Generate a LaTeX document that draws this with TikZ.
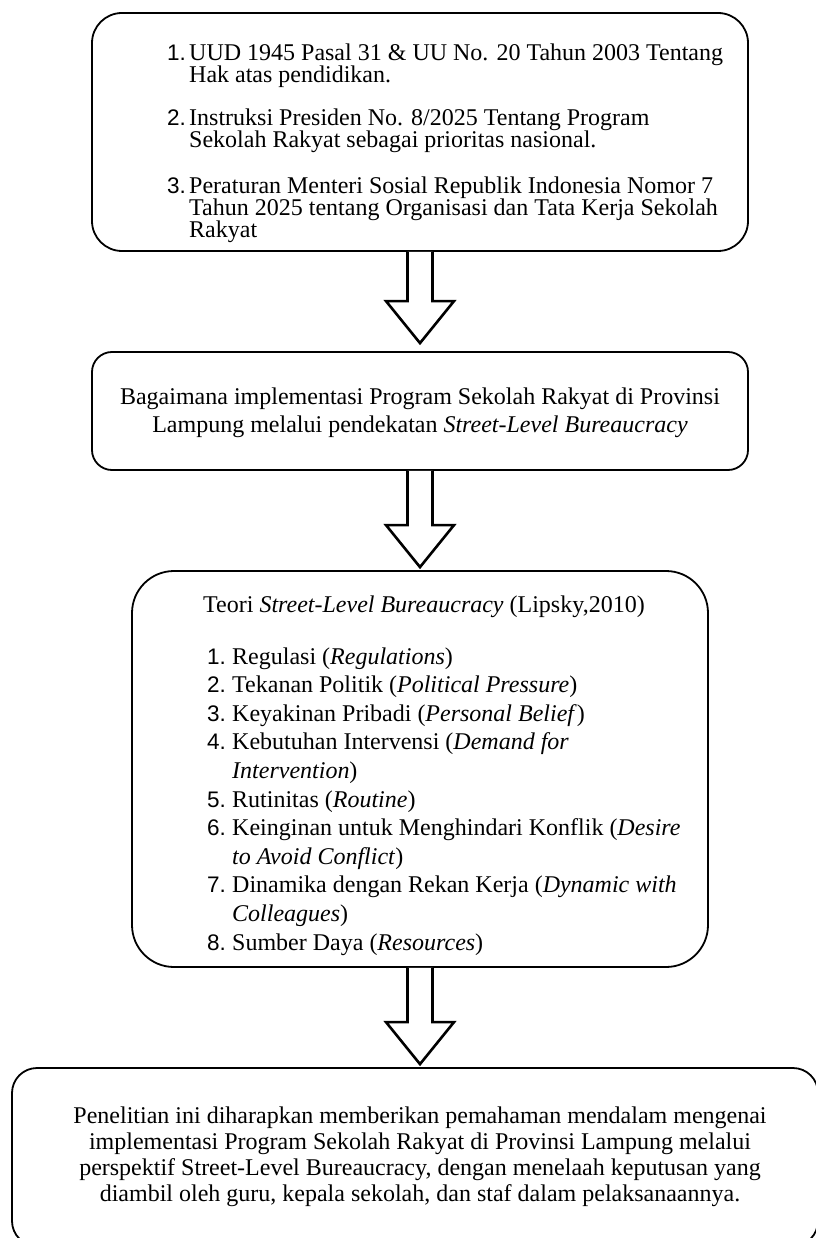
\documentclass[tikz,border=0pt]{standalone}
\usepackage{fontspec}
\setmainfont{Liberation Serif}
\newfontfamily\numfont{Liberation Sans}
\usetikzlibrary{calc}
\newcommand{\itm}[2][22pt]{\leavevmode\llap{\makebox[#1][l]{\numfont\fontsize{22.5}{22}\selectfont #2}}}
\newcommand{\blockarr}[3]{%
  \fill[gray,opacity=0.25,xshift=2.5pt,yshift=-2pt] let \p1=(#1.south), \p2=(#2.north) in
    (\x1-12.5pt,\y1) -- (\x1-12.5pt,\y2+#3+42pt) -- (\x1-34pt,\y2+#3+42pt) -- (\x1,\y2+#3)
    -- (\x1+34pt,\y2+#3+42pt) -- (\x1+12.5pt,\y2+#3+42pt) -- (\x1+12.5pt,\y1) -- cycle;
  \draw[barrow] let \p1=(#1.south), \p2=(#2.north) in
    (\x1-12.5pt,\y1) -- (\x1-12.5pt,\y2+#3+42pt) -- (\x1-34pt,\y2+#3+42pt) -- (\x1,\y2+#3)
    -- (\x1+34pt,\y2+#3+42pt) -- (\x1+12.5pt,\y2+#3+42pt) -- (\x1+12.5pt,\y1);}
\tikzset{
  box/.style={draw=black, line width=1.8pt, rounded corners=#1, inner sep=0pt, fill=white},
  box/.default=25pt,
  barrow/.style={draw=black, fill=white, line width=2.6pt, line join=miter},
  txt/.style={inner sep=0pt, font=\fontsize{24}{22}\selectfont},
}
\begin{document}
\begin{tikzpicture}[x=1pt,y=-1pt]
\useasboundingbox (0,0) rectangle (815,1238);
\fill[white] (0,0) rectangle (815,1238);
% boxes
\node[box=30pt, minimum width=656pt, minimum height=238pt] (b1) at (420,132) {};
\node[box=20pt, minimum width=656pt, minimum height=118pt] (b2) at (420,411) {};
\node[box=42pt, minimum width=576pt, minimum height=396pt] (b3) at (420,769) {};
\node[box=25pt, minimum width=806pt, minimum height=178pt] (b4) at (415,1157) {};
% arrows
\blockarr{b1}{b2}{8pt}
\blockarr{b2}{b3}{3pt}
\blockarr{b3}{b4}{3pt}
% box 1 text
\node[txt, anchor=base west] (t1) at (189,61) {\parbox[t]{560pt}{\raggedright\lineskiplimit=-100pt\lineskip=0pt
\itm{1.}UUD 1945 Pasal 31 \& UU No. 20 Tahun 2003 Tentang\\
Hak atas pendidikan.\\[21pt]
\itm{2.}Instruksi Presiden No. 8/2025 Tentang Program\\
Sekolah Rakyat sebagai prioritas nasional.\\[24pt]
\itm{3.}Peraturan Menteri Sosial Republik Indonesia Nomor 7\\
Tahun 2025 tentang Organisasi dan Tata Kerja Sekolah\\
Rakyat}};
% box 2 text
\node[txt, anchor=base] (t2) at (420,404) {\parbox[t]{700pt}{\centering\baselineskip=28pt
Bagaimana implementasi Program Sekolah Rakyat di Provinsi\\
Lampung melalui pendekatan \textit{Street-Level Bureaucracy}}};
% box 3 text
\node[txt, anchor=base west] (t3) at (203,612) {Teori \textit{Street-Level Bureaucracy} (Lipsky,2010)};
\node[txt, anchor=base west] (t3l) at (232,664) {\parbox[t]{470pt}{\raggedright\baselineskip=28.6pt
\itm[25pt]{1.}Regulasi (\textit{Regulations})\\
\itm[25pt]{2.}Tekanan Politik (\textit{Political Pressure})\\
\itm[25pt]{3.}Keyakinan Pribadi (\textit{Personal Belief})\\
\itm[25pt]{4.}Kebutuhan Intervensi (\textit{Demand for}\\
\textit{Intervention})\\
\itm[25pt]{5.}Rutinitas (\textit{Routine})\\
\itm[25pt]{6.}Keinginan untuk Menghindari Konflik (\textit{Desire}\\
\textit{to Avoid Conflict})\\
\itm[25pt]{7.}Dinamika dengan Rekan Kerja (\textit{Dynamic with}\\
\textit{Colleagues})\\
\itm[25pt]{8.}Sumber Daya (\textit{Resources})}};
% box 4 text
\node[txt, anchor=base] (t4) at (420,1123) {\parbox[t]{790pt}{\centering\baselineskip=26pt
Penelitian ini diharapkan memberikan pemahaman mendalam mengenai\\
implementasi Program Sekolah Rakyat di Provinsi Lampung melalui\\
perspektif Street-Level Bureaucracy, dengan menelaah keputusan yang\\
diambil oleh guru, kepala sekolah, dan staf dalam pelaksanaannya.}};
\end{tikzpicture}
\end{document}
